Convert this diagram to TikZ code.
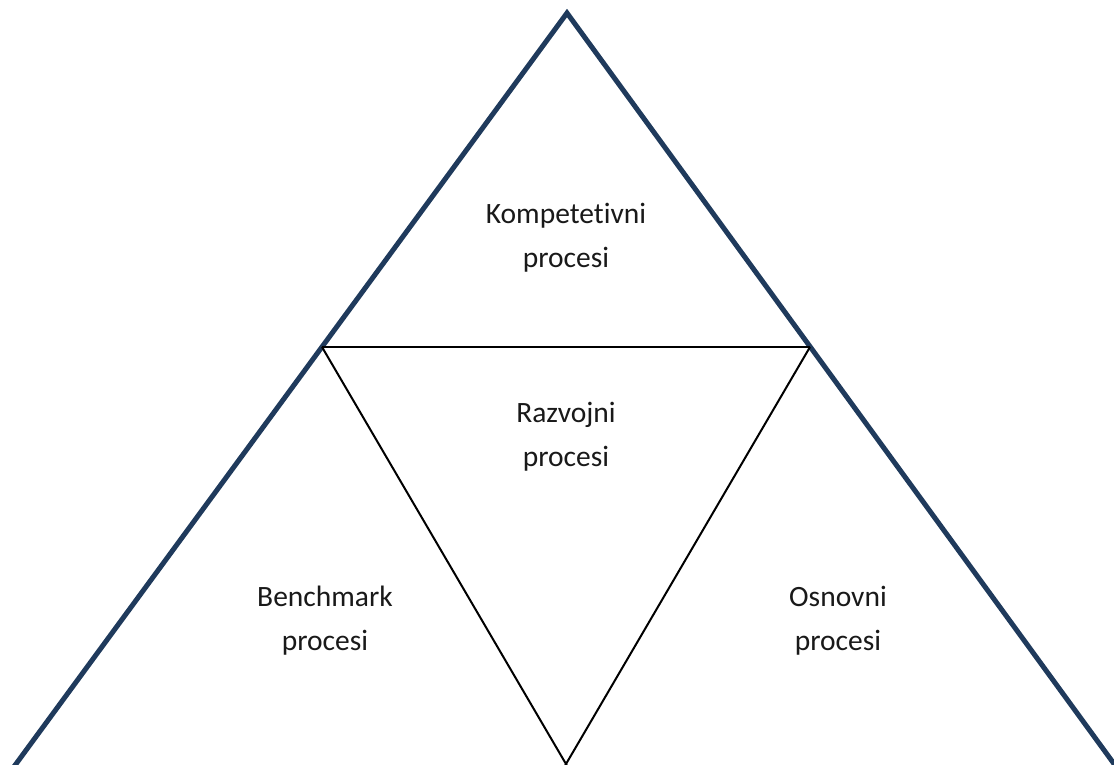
\documentclass[tikz,border=0pt]{standalone}
\usepackage{fontspec}
\setmainfont{Carlito}[Ligatures={NoCommon}]
\usetikzlibrary{calc}
\definecolor{navy}{HTML}{1F3A5C}
\tikzset{
  outer/.style={draw=navy, line width=5pt, line join=miter},
  inner/.style={draw=black, line width=2pt, line join=miter},
  lbl/.style={align=center, font=\fontsize{29.5}{44}\selectfont, text=black!90, inner sep=0pt}
}
\begin{document}
\begin{tikzpicture}[x=1pt,y=-1pt]
\useasboundingbox (0,0) rectangle (1114,764);
\coordinate (apex) at (567,13);
\coordinate (L) at (322,347);
\coordinate (R) at (810,347);
\coordinate (B) at (566,764);
\coordinate (BL) at (2,783);
\coordinate (BR) at (1128,783);
\begin{scope}
\clip (0,0) rectangle (1114,764);
\draw[outer] (BL) -- (apex) -- (BR);
\end{scope}
\draw[inner] (L) -- (R);
\begin{scope}
\clip (0,0) rectangle (1114,764);
\draw[inner] (L) -- ($(L)!1.05!(B)$);
\draw[inner] (R) -- ($(R)!1.05!(B)$);
\end{scope}
\node[lbl] (komp) at (566,238) {Kompetetivni\\procesi};
\node[lbl] (razv) at (566,437) {Razvojni\\procesi};
\node[lbl] (bench) at (325,621) {Benchmark\\procesi};
\node[lbl] (osn) at (838,621) {Osnovni\\procesi};
\end{tikzpicture}
\end{document}
